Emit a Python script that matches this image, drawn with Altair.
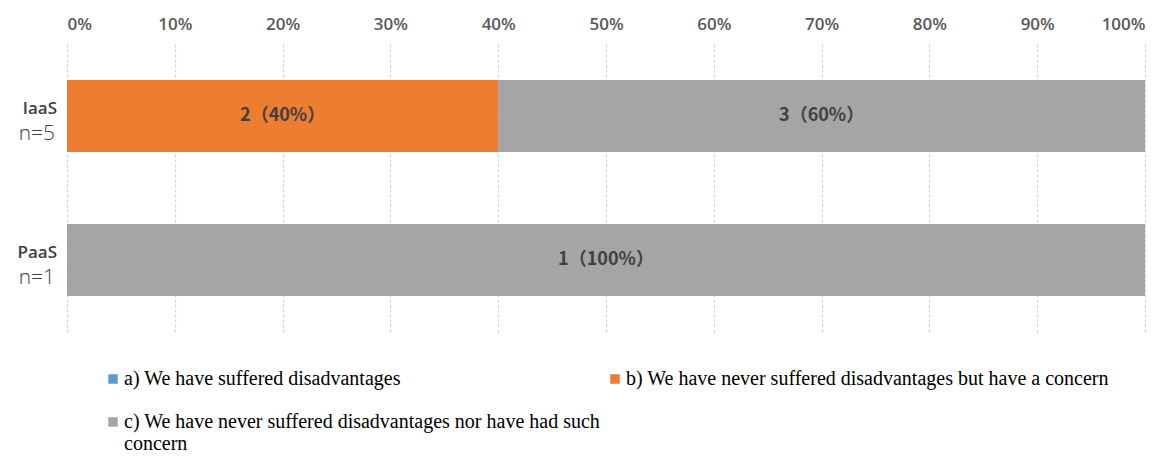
import altair as alt
import pandas as pd

platforms = ["IaaS", "IaaS", "PaaS"]
responses = [
    "b) We have never suffered disadvantages but have a concern",
    "c) We have never suffered disadvantages nor have had such\nconcern",
    "c) We have never suffered disadvantages nor have had such\nconcern",
]
counts = [2, 3, 1]
orders = [1, 2, 2]

platform_names = ["IaaS", "PaaS"]
platform_n = ["n=5", "n=1"]

# legend order (entries fill column by column)
legend_domain = [
    "a) We have suffered disadvantages",
    "c) We have never suffered disadvantages nor have had such\nconcern",
    "b) We have never suffered disadvantages but have a concern",
]
legend_colors = ["#5B9BD5", "#A5A5A5", "#ED7D31"]
tick_values = [0, 0.1, 0.2, 0.3, 0.4, 0.5, 0.6, 0.7, 0.8, 0.9, 1.0]

df = pd.DataFrame({"platform": platforms, "response": responses, "count": counts, "order": orders})
df_lab = pd.DataFrame({"platform": platform_names, "n": platform_n})

yscale = alt.Scale(domain=platform_names, paddingInner=0.5, paddingOuter=0.25)

base = alt.Chart(df).transform_joinaggregate(
    total="sum(count)", groupby=["platform"]
).transform_calculate(
    pct="datum.count / datum.total"
).transform_stack(
    stack="pct", as_=["p0", "p1"], groupby=["platform"], sort=[alt.SortField("order")]
).transform_calculate(
    mid="(datum.p0 + datum.p1) / 2",
    label="datum.count + '（' + round(datum.pct * 100) + '%）'",
)

bars = base.mark_bar().encode(
    x=alt.X(
        "p0:Q",
        scale=alt.Scale(domain=[0, 1], nice=False),
        axis=alt.Axis(
            orient="top", format=".0%", values=tick_values, title=None,
            domain=False, ticks=False, labelPadding=20, labelBaseline="middle",
            labelFont="Open Sans", labelFontSize=17, labelFontWeight=600,
            labelColor="#595959", grid=True, gridColor="#D6D6D6", gridDash=[3, 2],
            gridWidth=1.2,
        ),
    ),
    x2="p1:Q",
    y=alt.Y("platform:N", scale=yscale, axis=None),
    color=alt.Color(
        "response:N",
        scale=alt.Scale(domain=legend_domain, range=legend_colors),
        legend=alt.Legend(
            title=None, orient="none", legendX=36, legendY=325,
            columns=2, columnPadding=4, rowPadding=23,
            symbolType="square", symbolSize=90, symbolStrokeWidth=0,
            labelFont="Liberation Serif", labelFontSize=20, labelColor="#000000",
            labelOffset=1, labelLimit=800, labelExpr="split(datum.label, '\\n')",
        ),
    ),
)

text = base.mark_text(
    font="Noto Sans CJK JP", fontSize=18, fontWeight="bold", color="#404040"
).encode(
    x="mid:Q",
    y=alt.Y("platform:N", scale=yscale),
    text="label:N",
)

name_lab = alt.Chart(df_lab).mark_text(
    align="right", baseline="middle", font="Open Sans", fontSize=17,
    fontWeight=600, color="#404040", dy=-7,
).encode(
    x=alt.value(-10),
    y=alt.Y("platform:N", scale=yscale),
    text="platform:N",
)

n_lab = alt.Chart(df_lab).mark_text(
    align="right", baseline="middle", font="Open Sans", fontSize=21,
    fontWeight=300, color="#404040", dy=18,
).encode(
    x=alt.value(-12),
    y=alt.Y("platform:N", scale=yscale),
    text="n:N",
)

chart = alt.layer(bars, text, name_lab, n_lab).properties(
    width=1078, height=288,
    autosize=alt.AutoSizeParams(type="none"),
    padding={"left": 59, "top": 36, "right": 19, "bottom": 121},
).configure_view(stroke=None)

chart.save("out.html", embed_options={"renderer": "svg", "actions": False})
